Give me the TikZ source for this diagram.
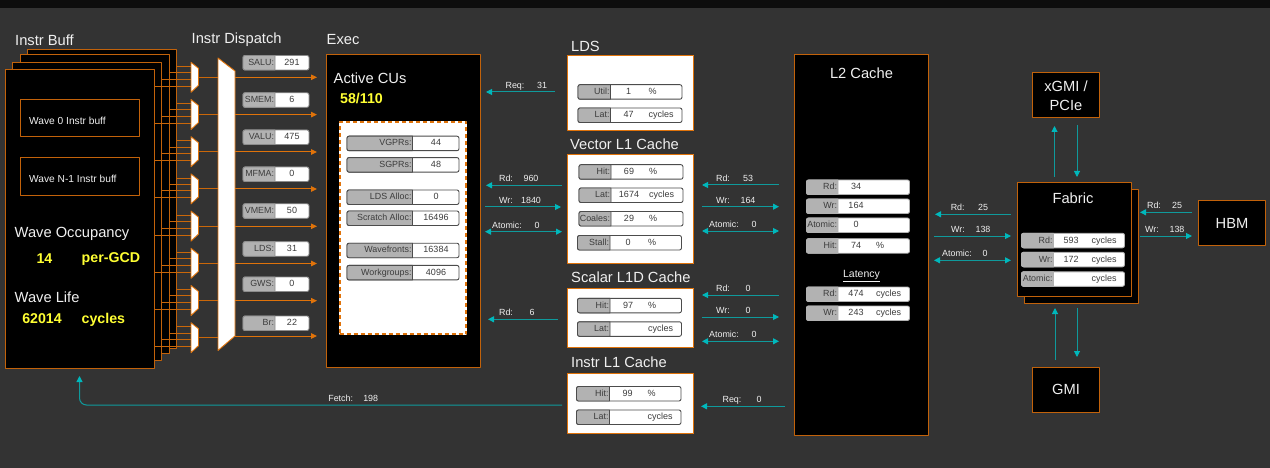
\documentclass[tikz,border=0pt]{standalone}
\usepackage{fontspec}
\setmainfont{Liberation Sans}
\usetikzlibrary{arrows.meta}

\definecolor{canvas}{HTML}{333333}
\definecolor{topbar}{HTML}{0D0D0D}
\definecolor{boxorange}{HTML}{C2620A}
\definecolor{wireorange}{HTML}{E0730A}
\definecolor{linkteal}{HTML}{0F9A9C}
\definecolor{tipteal}{HTML}{00B8BC}
\definecolor{pillgray}{HTML}{B2B2B2}
\definecolor{pilltext}{HTML}{3C3C3C}
\definecolor{softwhite}{HTML}{F0F0F0}
\definecolor{statyellow}{HTML}{FFFF33}

% name, left, split, right, top, label, value, value offset, unit
\newcommand{\statrow}[9]{%
  \draw[pilledge,fill=white,rounded corners=2pt] (#2,#5) rectangle (#4,#5+14.5);
  \draw[pilledge,fill=pillgray] (#3,#5) [rounded corners=2pt] -- (#2,#5) -- (#2,#5+14.5) [sharp corners] -- (#3,#5+14.5) -- cycle;
  \node[pilltag] (#1tag) at (#3-0.8,#5+7.4) {#6};
  \if\relax\detokenize{#7}\relax\else
    \node[pillval] (#1val) at (#3+#8,#5+7.4) {#7};
  \fi
  \if\relax\detokenize{#9}\relax\else
    \node[pillunit] (#1unit) at (#3+38,#5+7.4) {#9};
  \fi
}

\begin{document}
\begin{tikzpicture}[
  x=1pt,
  y=-1pt,
  line join=round,
  panel/.style={draw=boxorange,fill=black,line width=1pt,inner sep=0pt,outer sep=0pt,anchor=north west},
  whitepanel/.style={panel,draw=wireorange,fill=white},
  heading/.style={text=softwhite,font=\fontsize{14.7}{17}\selectfont,inner sep=0pt,anchor=west},
  bigstat/.style={text=statyellow,font=\bfseries\fontsize{14.2}{17}\selectfont,inner sep=0pt,text height=10.2pt,text depth=3pt},
  pilledge/.style={draw=black!70,line width=0.9pt},
  pilltag/.style={text=pilltext,font=\fontsize{8.9}{10}\selectfont,inner sep=0pt,anchor=east,text height=6.6pt,text depth=1.9pt},
  pillval/.style={text=pilltext,font=\fontsize{9}{10}\selectfont,inner sep=0pt,text height=6.6pt,text depth=1.9pt},
  pillunit/.style={pillval,anchor=west},
  linktext/.style={text=softwhite,font=\fontsize{8.9}{10}\selectfont,inner sep=0pt,text height=6.6pt,text depth=1.9pt},
  link/.style={draw=linkteal,line width=1pt},
  linkleft/.style={link,{Triangle[length=6pt,width=6pt,color=tipteal]}-},
  linkright/.style={link,-{Triangle[length=6pt,width=6pt,color=tipteal]}},
  linkboth/.style={link,{Triangle[length=6pt,width=6pt,color=tipteal]}-{Triangle[length=6pt,width=6pt,color=tipteal]}},
  wire/.style={draw=wireorange!90!black,line width=1pt},
  output/.style={draw=wireorange,line width=1pt,-{Triangle[length=6pt,width=5.5pt]}}
]
  \fill[canvas] (0,0) rectangle (1270,468);
  \fill[topbar] (0,0) rectangle (1270,8);
  \useasboundingbox (0,0) rectangle (1270,468);

  % Instruction buffer stack.
  \node[panel,minimum width=149pt,minimum height=298pt] (buff3) at (27.5,50) {};
  \node[panel,minimum width=149pt,minimum height=298pt] (buff2) at (20,55) {};
  \node[panel,minimum width=149pt,minimum height=298pt] (buff1) at (12.5,62.5) {};
  \node[panel,minimum width=149pt,minimum height=298pt] (buff0) at (5.5,70) {};
  \node[panel,minimum width=119pt,minimum height=37.5pt] (wavefirst) at (20,99.5) {};
  \node[panel,minimum width=119pt,minimum height=37.5pt] (wavelast) at (20,158) {};

  \node[heading] (bufftitle) at (15,40) {Instr Buff};
  \node[heading] (disptitle) at (191.5,40) {Instr Dispatch};
  \node[heading] (exectitle) at (326.5,40) {Exec};
  \node[pillunit,text=softwhite,font=\fontsize{10.2}{12}\selectfont] (wavefirsttext) at (29,122) {Wave 0 Instr buff};
  \node[pillunit,text=softwhite,font=\fontsize{10.2}{12}\selectfont] (wavelasttext) at (29,180.5) {Wave N-1 Instr buff};
  \node[heading] (occtitle) at (14.5,233.5) {Wave Occupancy};
  \node[bigstat] (occval) at (44.5,259.5) {14};
  \node[bigstat,anchor=west] (occunit) at (81.5,259) {per-GCD};
  \node[heading] (lifetitle) at (14.5,297) {Wave Life};
  \node[bigstat] (lifeval) at (42,320) {62014};
  \node[bigstat,anchor=west] (lifeunit) at (81.5,319.5) {cycles};

  % Muxes with their four wires.
  \foreach \i in {0,...,7} {
    \pgfmathsetmacro{\muxtop}{62.3+37.2*\i}
    \draw[wire] (buff3.east |- 0,\muxtop+4.2) -- (191,\muxtop+4.2);
    \draw[wire] (buff2.east |- 0,\muxtop+10.4) -- (191,\muxtop+10.4);
    \draw[wire] (buff1.east |- 0,\muxtop+17) -- (191,\muxtop+17);
    \draw[wire] (buff0.east |- 0,\muxtop+24) -- (191,\muxtop+24);
    \coordinate (mux\i) at (198.5,\muxtop+15);
    \coordinate (disp\i) at (218,\muxtop+15);
    \draw[wire] (mux\i) -- (disp\i);
    \draw[draw=wireorange,fill=white,line width=0.9pt] (191,\muxtop) -- (198.5,\muxtop+6) -- (198.5,\muxtop+23) -- (191,\muxtop+30) -- cycle;
  }

  % Dispatch wedge and its outputs.
  \draw[draw=wireorange,fill=white,line width=0.9pt] (218,58) -- (235,71) -- (235,336) -- (218,350.5) -- cycle;
  \foreach \i/\y in {0/77.3,1/114.6,2/152,3/189,4/226.3,5/263.5,6/300.7,7/336} {
    \coordinate (out\i) at (235,\y);
    \coordinate (exec\i) at (317,\y);
    \draw[output] (out\i) -- (exec\i);
  }
  \begin{scope}[pilledge/.style={draw=black!45,line width=0.9pt}]
    \foreach \nm/\lbl/\top/\val in {salu/SALU:/55.5/291,smem/SMEM:/92.8/6,valu/VALU:/130/475,mfma/MFMA:/167/0,vmem/VMEM:/203.8/50,ldsq/LDS:/241.7/31,gws/GWS:/277/0,br/Br:/316/22} {
      \statrow{\nm}{243}{275}{309}{\top}{\lbl}{\val}{17}{}
    }
  \end{scope}

  % Exec block.
  \node[panel,minimum width=154pt,minimum height=312.5pt] (exec) at (326.5,55) {};
  \node[heading] (cutitle) at (333.5,78) {Active CUs};
  \node[bigstat,anchor=west] (cuval) at (340,100) {58/110};
  \node[panel,draw=wireorange,fill=white,line width=2pt,dash pattern=on 4pt off 3pt,preaction={draw=white,solid},minimum width=126.5pt,minimum height=212pt] (cuinner) at (339.5,122) {};
  \foreach \nm/\lbl/\top/\val in {vgpr/VGPRs:/136.2/44,sgpr/SGPRs:/157.6/48,ldsalloc/LDS Alloc:/190/0,scratch/Scratch Alloc:/211/16496,wavef/Wavefronts:/243.2/16384,workg/Workgroups:/265.4/4096} {
    \statrow{\nm}{347}{412.5}{459}{\top}{\lbl}{\val}{23.5}{}
  }

  % Caches, local side.
  \node[whitepanel,minimum width=126pt,minimum height=75.5pt] (lds) at (567.5,55.5) {};
  \node[whitepanel,minimum width=126pt,minimum height=109pt] (vecl1) at (567.5,154.5) {};
  \node[whitepanel,minimum width=126pt,minimum height=59.5pt] (scal1) at (567.5,288.3) {};
  \node[whitepanel,minimum width=126pt,minimum height=60pt] (insl1) at (567.5,373.5) {};
  \node[heading] (ldstitle) at (571,46) {LDS};
  \node[heading] (vectitle) at (570,144) {Vector L1 Cache};
  \node[heading] (scatitle) at (571,277) {Scalar L1D Cache};
  \node[heading] (institle) at (571,362) {Instr L1 Cache};

  \statrow{ldsutil}{578}{610.5}{682}{84.7}{Util:}{1}{18}{\%}
  \statrow{ldslat}{578}{610.5}{682}{108}{Lat:}{47}{18}{cycles}
  \statrow{vechit}{579}{611}{683}{164.7}{Hit:}{69}{18}{\%}
  \statrow{veclat}{579}{611}{683}{188}{Lat:}{1674}{18}{cycles}
  \statrow{veccoal}{579}{611}{683}{211.5}{Coales:}{29}{18}{\%}
  \statrow{vecstall}{577.5}{610}{681.5}{235.5}{Stall:}{0}{18}{\%}
  \statrow{scahit}{577.5}{610}{681.5}{298.3}{Hit:}{97}{18}{\%}
  \statrow{scalat}{577.5}{610}{681.5}{321.8}{Lat:}{}{18}{cycles}
  \statrow{inshit}{576.5}{609.5}{681}{386.5}{Hit:}{99}{18}{\%}
  \statrow{inslat}{576.5}{609.5}{681}{410}{Lat:}{}{18}{cycles}

  % L2 and fabric.
  \node[panel,minimum width=134pt,minimum height=380pt] (l2) at (794.5,55) {};
  \node[heading,anchor=center] (l2title) at (861.5,73) {L2 Cache};
  \node[panel,minimum width=114pt,minimum height=113.5pt] (fabricback) at (1024.5,189.5) {};
  \node[panel,minimum width=113.5pt,minimum height=113.5pt] (fabric) at (1017.5,182.5) {};
  \node[heading,anchor=center] (fabrictitle) at (1073,198) {Fabric};
  \begin{scope}[pilledge/.style={draw=black!30,line width=0.9pt}]
    \statrow{l2rd}{806.5}{838}{909.5}{180}{Rd:}{34}{18}{}
    \statrow{l2wr}{806.5}{838}{909.5}{199}{Wr:}{164}{18}{}
    \statrow{l2at}{806.5}{838}{909.5}{218}{Atomic:}{0}{18}{}
    \statrow{l2hit}{806.5}{838}{909.5}{238.7}{Hit:}{74}{18}{\%}
    \statrow{l2lrd}{806.5}{838}{909.5}{287}{Rd:}{474}{18}{cycles}
    \statrow{l2lwr}{806.5}{838}{909.5}{306}{Wr:}{243}{18}{cycles}
    \statrow{fabrd}{1021.5}{1053.5}{1124.5}{233.3}{Rd:}{593}{17.5}{cycles}
    \statrow{fabwr}{1021.5}{1053.5}{1124.5}{252.3}{Wr:}{172}{17.5}{cycles}
    \statrow{fabat}{1021.5}{1053.5}{1124.5}{271.8}{Atomic:}{}{17.5}{cycles}
  \end{scope}
  \node[inner sep=0pt,text=softwhite,font=\fontsize{10.5}{12}\selectfont] (latency) at (861.5,276) {\underline{Latency}};

  % Outer blocks.
  \node[panel,minimum width=67pt,minimum height=45pt,align=center,text=softwhite,font=\fontsize{14.7}{19}\selectfont] (xgmi) at (1032.5,73) {xGMI /\\PCIe};
  \node[panel,minimum width=67pt,minimum height=45pt,text=softwhite,font=\fontsize{14.7}{17}\selectfont] (gmi) at (1032.5,367) {GMI};
  \node[panel,minimum width=67pt,minimum height=45pt,text=softwhite,font=\fontsize{14.7}{17}\selectfont] (hbm) at (1198.5,200.5) {HBM};

  % Labelled links.
  \foreach \nm/\sty/\from/\to/\y/\tag/\tx/\val/\vx in {
    ldsreq/linkleft/486/555/92/Req:/515/31/542,
    vecrd/linkleft/486/562/185.3/Rd:/506/960/531,
    vecwr/linkright/485/561/207/Wr:/506/1840/531,
    vecat/linkboth/485/562/231.7/Atomic:/507/0/537,
    scard/linkleft/488/558/319.3/Rd:/506/6/532,
    l2vrd/linkleft/702/779/185/Rd:/723/53/748,
    l2vwr/linkright/702/779/206.7/Wr:/723/164/748,
    l2vat/linkboth/702/779/231/Atomic:/724/0/754,
    l2srd/linkleft/702/779/295/Rd:/723/0/748,
    l2swr/linkright/702/779/317/Wr:/723/0/748,
    l2sat/linkboth/702/779/341.3/Atomic:/724/0/754,
    l2ireq/linkleft/701/785/406.3/Req:/732/0/759,
    fabrd/linkleft/935/1011/214.3/Rd:/957.7/25/983,
    fabwr/linkright/934/1011/236/Wr:/958/138/983,
    fabat/linkboth/934/1011/260.3/Atomic:/957/0/985,
    hbmrd/linkleft/1140/1192/212.3/Rd:/1154/25/1177,
    hbmwr/linkright/1140/1192/236/Wr:/1152/138/1177%
  } {
    \coordinate (\nm a) at (\from,\y);
    \coordinate (\nm b) at (\to,\y);
    \draw[\sty] (\nm a) -- (\nm b);
    \node[linktext] (\nm tag) at (\tx,\y-5.7) {\tag};
    \node[linktext] (\nm val) at (\vx,\y-5.7) {\val};
  }

  % Vertical links around the fabric.
  \foreach \nm/\sty/\x/\from/\to in {xgmiup/linkright/1054.5/177/126,xgmidown/linkright/1077/125/177,gmiup/linkright/1055/360/308,gmidown/linkright/1077/308/357} {
    \coordinate (\nm a) at (\x,\from);
    \coordinate (\nm b) at (\x,\to);
    \draw[\sty] (\nm a) -- (\nm b);
  }

  % Fetch return path.
  \coordinate (fetcha) at (562,405);
  \coordinate (fetchb) at (79.5,376);
  \draw[linkright,rounded corners=7pt] (fetcha) -| (fetchb);
  \node[linktext] (fetchtag) at (340.7,399) {Fetch:};
  \node[linktext] (fetchval) at (370.7,399) {198};
\end{tikzpicture}
\end{document}
